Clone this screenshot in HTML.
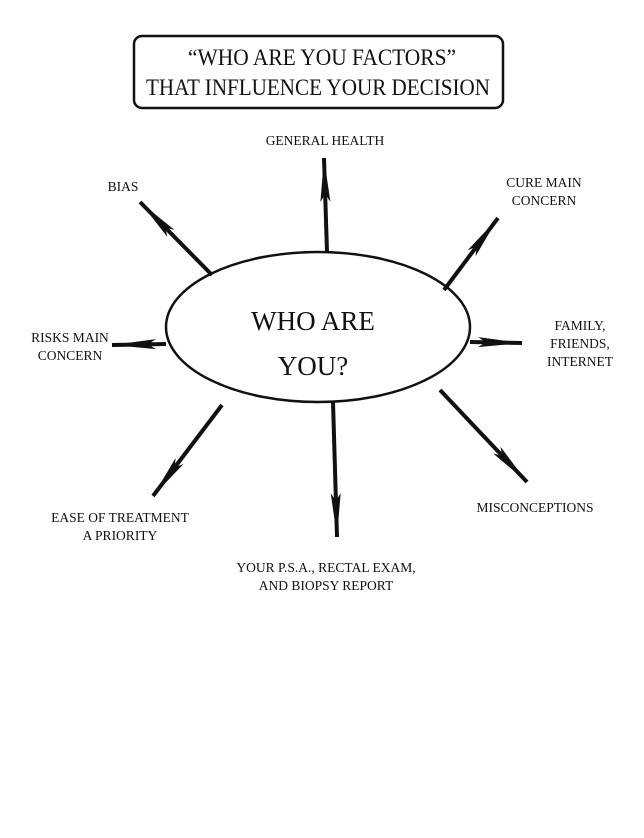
<!DOCTYPE html>
<html><head><style>
html,body{margin:0;padding:0;background:#fff;}
body{width:644px;height:833px;overflow:hidden;}
svg text{font-family:"Liberation Serif",serif;fill:#111;}
</style></head><body>
<svg width="644" height="833" viewBox="0 0 644 833" xmlns="http://www.w3.org/2000/svg">
<rect x="134" y="36" width="369" height="72" rx="8" fill="none" stroke="#111" stroke-width="2.5"/>
<text x="188" y="65" font-size="23" textLength="268" lengthAdjust="spacingAndGlyphs">“WHO ARE YOU FACTORS”</text>
<text x="146" y="95" font-size="23" textLength="344" lengthAdjust="spacingAndGlyphs">THAT INFLUENCE YOUR DECISION</text>
<ellipse cx="318" cy="327" rx="152" ry="75" fill="none" stroke="#111" stroke-width="2.5"/>
<text x="313" y="330" font-size="27" text-anchor="middle">WHO ARE</text>
<text x="313" y="375" font-size="27" text-anchor="middle">YOU?</text>
<defs>
<marker id="a" viewBox="0 0 44 10" refX="44" refY="5" markerWidth="44" markerHeight="10" markerUnits="userSpaceOnUse" orient="auto">
<path d="M0,0 L44,5 L0,10 L8,5 Z" fill="#111"/>
</marker>
</defs>
<g stroke="#111" stroke-width="4" fill="none" marker-end="url(#a)">
<line x1="327" y1="252" x2="324" y2="158"/>
<line x1="212" y1="275" x2="140" y2="202"/>
<line x1="444" y1="290" x2="498" y2="218"/>
<line x1="470" y1="342" x2="522" y2="343"/>
<line x1="440" y1="390" x2="527" y2="482"/>
<line x1="333" y1="402" x2="337" y2="537"/>
<line x1="222" y1="405" x2="153" y2="496"/>
<line x1="166" y1="344" x2="112" y2="345"/>
</g>
<g font-size="13.5">
<text x="325" y="145" text-anchor="middle">GENERAL HEALTH</text>
<text x="123" y="191" text-anchor="middle">BIAS</text>
<text x="544" y="187" text-anchor="middle">CURE MAIN</text>
<text x="544" y="205" text-anchor="middle">CONCERN</text>
<text x="580" y="330" text-anchor="middle">FAMILY,</text>
<text x="580" y="348" text-anchor="middle">FRIENDS,</text>
<text x="580" y="366" text-anchor="middle">INTERNET</text>
<text x="535" y="512" text-anchor="middle">MISCONCEPTIONS</text>
<text x="326" y="572" text-anchor="middle">YOUR P.S.A., RECTAL EXAM,</text>
<text x="326" y="590" text-anchor="middle">AND BIOPSY REPORT</text>
<text x="120" y="522" text-anchor="middle">EASE OF TREATMENT</text>
<text x="120" y="540" text-anchor="middle">A PRIORITY</text>
<text x="70" y="342" text-anchor="middle">RISKS MAIN</text>
<text x="70" y="360" text-anchor="middle">CONCERN</text>
</g>
</svg>
</body></html>
